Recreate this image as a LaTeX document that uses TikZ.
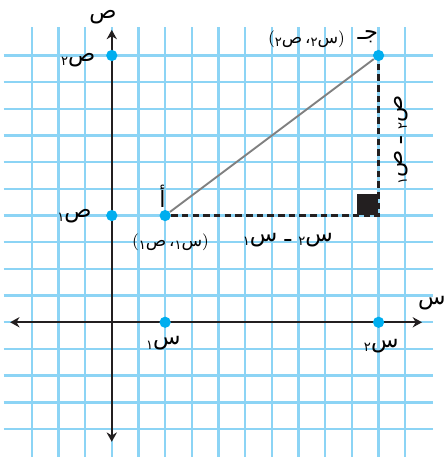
\documentclass[tikz,border=0pt]{standalone}
\usepackage{fontspec}
\newfontfamily\arabicfont[Script=Arabic]{DejaVu Sans}
\TeXXeTstate=1
\usetikzlibrary{arrows.meta}
\definecolor{gridblue}{RGB}{140,212,245}
\definecolor{dotblue}{RGB}{0,174,239}
\definecolor{inkblack}{RGB}{35,31,32}
% subscript digit, text written in visual order (left to right)
\newcommand{\sub}[1]{\raisebox{-0.35ex}{\scriptsize #1}}
\newcommand{\artext}[1]{{\arabicfont #1}}
\newcommand{\rtltext}[1]{{\arabicfont\beginR #1\endR}}

\begin{document}
\begin{tikzpicture}[
x=0.5cm, y=0.5cm,
gridline/.style={gridblue, line width=1.3pt},
axis/.style={inkblack, line width=1.2pt, {Stealth[length=5pt,width=5.5pt]}-{Stealth[length=5pt,width=5.5pt]}},
dot/.style={circle, fill=dotblue, inner sep=0pt, minimum size=6pt},
lbl/.style={inner sep=0pt, font=\large},
pair/.style={inner sep=0pt, font=\small},
dashline/.style={inkblack, line width=1.2pt, dash pattern=on 3.5pt off 2.2pt},
corner/.style={fill=inkblack, inner sep=0pt, minimum size=11.5pt}
]
\useasboundingbox (-4.19,-5.05) rectangle (12.42,12.08);

% grid
\foreach \j in {-4,...,10}
  \draw[gridline] (-4.05,\j) -- (12.05,\j);
\foreach \k in {-3,...,11}
  \draw[gridline] (\k,-5.1) -- (\k,11.07);

% axes
\coordinate (xl) at (-3.81,0);
\coordinate (xr) at (11.63,0);
\coordinate (yb) at (0,-4.48);
\coordinate (yt) at (0,10.96);
\draw[axis] (xl) -- (xr);
\draw[axis] (yb) -- (yt);

% points
\node[dot] (Y2) at (0,10) {};
\node[dot] (Y1) at (0,4) {};
\node[dot] (X1) at (2,0) {};
\node[dot] (X2) at (10,0) {};
\node[dot] (A) at (2,4) {};
\node[dot] (C) at (10,10) {};
\coordinate (K) at (10,4);

% triangle
\draw[gray, line width=1pt] (A) -- (C);
\draw[dashline] (A) -- (K) -- (C);
\node[corner, anchor=south east] (R) at (K) {};

% labels
\node[lbl] (ly) at (-0.33,11.45) {\artext{ص}};
\node[lbl] (lx) at (12.0,0.73) {\artext{س}};
\node[lbl] (ly2) at (-1.26,9.83) {\artext{\sub{٢}ص}};
\node[lbl] (ly1) at (-1.4,3.98) {\artext{\sub{١}ص}};
\node[lbl] (lx1) at (1.93,-0.8) {\artext{\sub{١}س}};
\node[lbl] (lx2) at (10.1,-0.9) {\artext{\sub{٢}س}};
\node[lbl] (lA) at (1.9,4.74) {\artext{أ}};
\node[lbl] (lC) at (9.6,10.7) {\rtltext{جـ}};
\node[pair] (pA) at (2.2,3.0) {(\artext{\sub{١}\mbox{ص}\,\mbox{،}\sub{١}\mbox{س}})};
\node[pair] (pC) at (7.3,10.6) {(\artext{\sub{٢}\mbox{ص}\,\mbox{،}\sub{٢}\mbox{س}})};
\node[lbl] (dx) at (6.6,3.08) {\artext{\sub{١}\mbox{س} \mbox{ـ} \sub{٢}\mbox{س}}};
\node[lbl, rotate=90] (dy) at (10.85,6.84) {\artext{\sub{١}\mbox{ص} \mbox{ـ} \sub{٢}\mbox{ص}}};

\end{tikzpicture}
\end{document}
